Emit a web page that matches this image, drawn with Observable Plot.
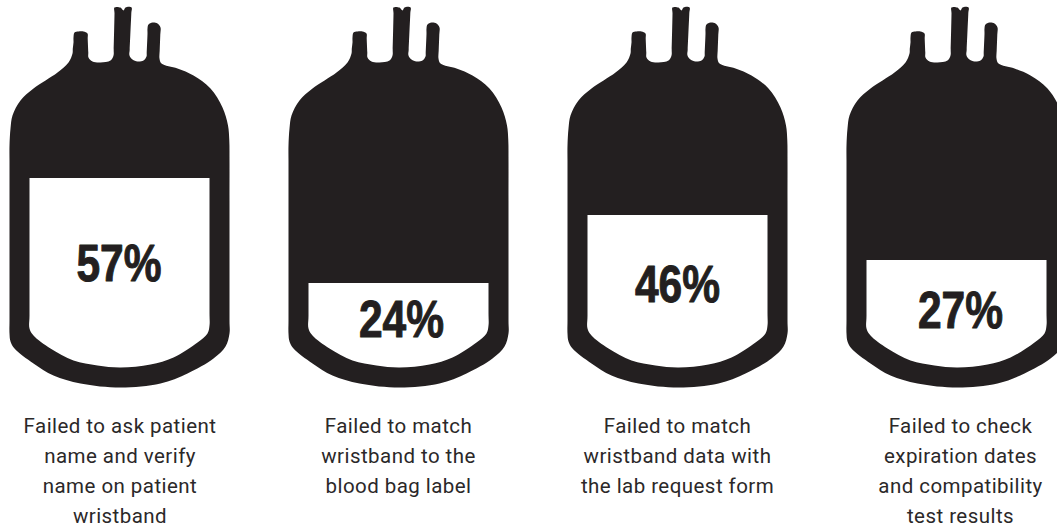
<!DOCTYPE html>
<html><head><meta charset="utf-8">
<script src="https://cdn.jsdelivr.net/npm/d3@7"></script>
<script src="https://cdn.jsdelivr.net/npm/@observablehq/plot@0.6"></script>
<style>html,body{margin:0;padding:0;background:#fff;overflow:hidden}svg{display:block}.lab text{letter-spacing:.45px}</style>
</head><body><div id="chart"></div>
<script>
const percents = ["57%", "24%", "46%", "27%"];
const fillLevels = [178, 283, 215, 260];
const bagOffsets = [0, 279, 558, 837];
const percentX = [118.5, 401, 677, 960];
const percentY = [264.5, 320.5, 285.5, 311.5];
const labelX = [119.5, 398, 677, 960];
const labels = [
  "Failed to ask patient\nname and verify\nname on patient\nwristband",
  "Failed to match\nwristband to the\nblood bag label",
  "Failed to match\nwristband data with\nthe lab request form",
  "Failed to check\nexpiration dates\nand compatibility\ntest results"
];
const bagOutline = [[9,145],[9,160],[9,200],[9,320],[9,333],[10,341],[14,348],[33,363],[53,375],[80,383],[120,387],[160,383],[187,373],[213,358],[225,346],[229,333],[229,320],[229,200],[229,160],[228.8,140],[227.5,125],[222,107],[210,88],[193,75],[177,68],[161,63],[159,58],[159.2,50],[159.8,34],[160,27],[157,23],[152,22],[148,24],[147,28],[147,33],[146.2,52],[146,56],[143,60],[137,61],[132,59],[129,55],[129.2,49],[130.8,13],[131,7],[125,7],[123,10],[120,7],[114,7],[114,13],[113.2,49],[113,55],[110,60],[100,62],[92,61],[88,57],[87.8,52],[87.2,38],[87,33],[83,31],[78,31],[74,32],[73,37],[73,42],[72.3,48],[72,53],[68,62],[57,72],[33,88],[20,100],[12,115],[10,128]];
const bagInner = [[29,140],[29,150],[29,200],[29,315],[29,328],[33,335],[50,348],[73,360],[97,365],[120,367],[150,364],[173,357],[197,342],[207,333],[209,325],[209,312],[209,200],[209,150],[209,140]];

const rows = (shape) => bagOffsets.flatMap((dx, i) => shape.map(([x, y]) => ({x: x + dx, y, bag: i})));
const bags = percents.map((p, i) => ({
  percent: p, level: fillLevels[i], x1: bagOffsets[i] + 20, x2: bagOffsets[i] + 218,
  px: percentX[i], py: percentY[i], lx: labelX[i], label: labels[i]
}));
const ink = "#231f20";

const chart = Plot.plot({
  width: 1057, height: 527,
  marginTop: 0, marginRight: 0, marginBottom: 0, marginLeft: 0,
  x: {domain: [0, 1057], axis: null},
  y: {domain: [527, 0], axis: null},
  marks: [
    Plot.line(rows(bagOutline), {x: "x", y: "y", z: "bag", fill: ink, stroke: "none", curve: "catmull-rom-closed"}),
    Plot.line(rows(bagInner), {x: "x", y: "y", z: "bag", fill: "white", stroke: "none", curve: "catmull-rom-closed"}),
    Plot.rect(bags, {x1: "x1", x2: "x2", y1: () => 120, y2: "level", fill: ink}),
    Plot.text(bags, {x: "px", y: "py", text: "percent", fill: ink, stroke: ink, strokeWidth: 1, fontSize: 51, fontWeight: 700, fontFamily: "Liberation Sans", textAnchor: "middle", className: "pct"}),
    Plot.text(bags, {x: "lx", y: () => 411.5, text: "label", fill: "#2b2829", fontSize: 20.5, fontFamily: "Roboto", lineHeight: 1.463, lineAnchor: "top", textAnchor: "middle", className: "lab"})
  ]
});
document.getElementById("chart").append(chart);
// condense the percent figures: only a regular-width bold face is installed
chart.querySelectorAll(".pct text").forEach((t) => {
  t.setAttribute("textLength", "85");
  t.setAttribute("lengthAdjust", "spacingAndGlyphs");
});
</script></body></html>
